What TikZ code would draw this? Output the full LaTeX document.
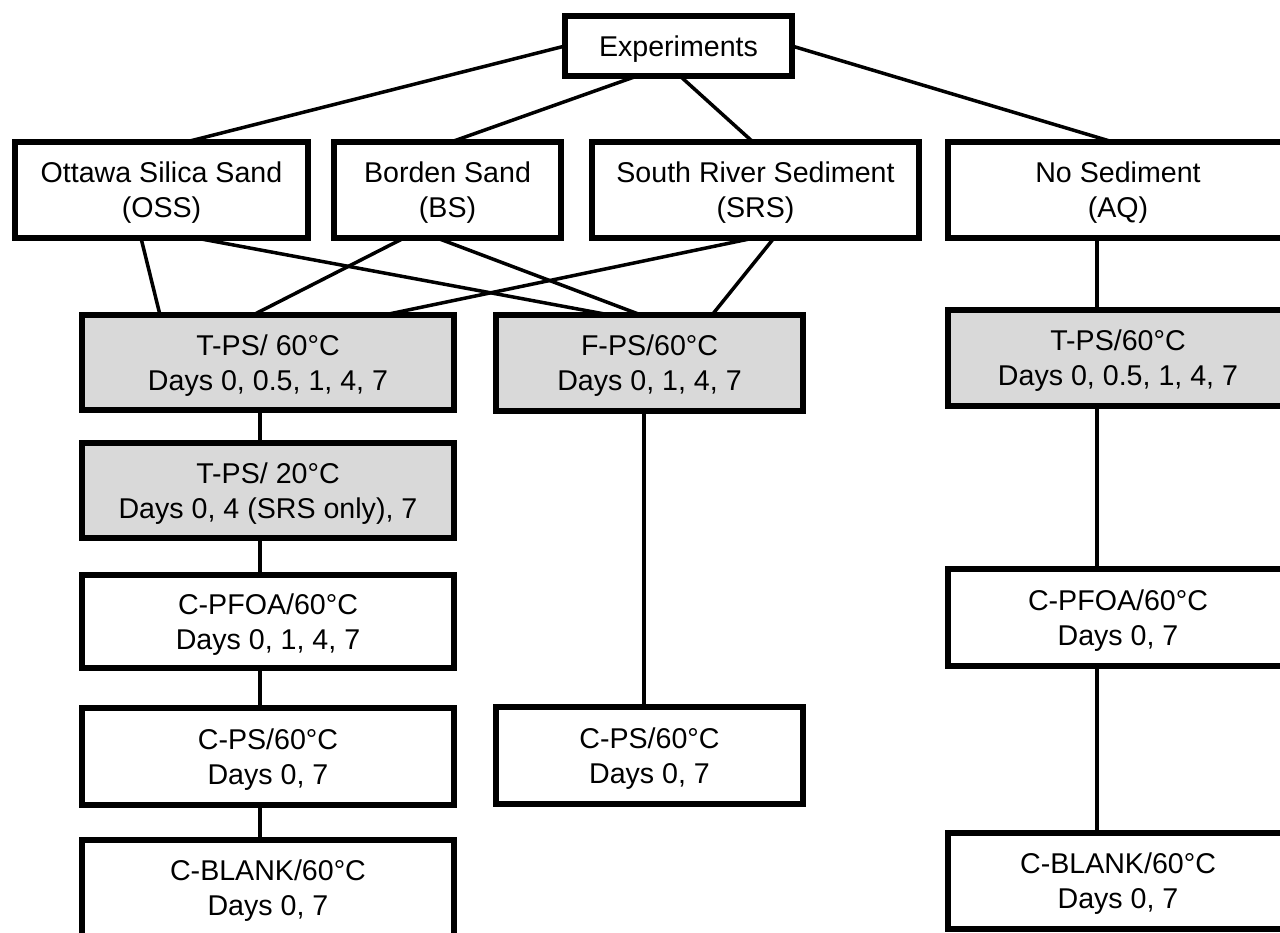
\documentclass[tikz,border=0pt]{standalone}
\usepackage{fontspec}
\setmainfont{Liberation Sans}
\definecolor{boxgray}{HTML}{D9D9D9}
\begin{document}
\begin{tikzpicture}[x=1pt,y=-1pt,
  box/.style={draw=black,line width=5.5pt,fill=white,inner sep=0pt,outer sep=0pt,
    align=center,font=\fontsize{28.6}{35}\selectfont,rectangle,text depth=0pt},
  graybox/.style={box,fill=boxgray},
  link/.style={line width=3.5pt,black}]
\clip (0,0) rectangle (1280,932);
\fill[white] (0,0) rectangle (1280,932);
% top
\node[box,minimum width=227pt,minimum height=60pt] (exp) at (678.5,46) {Experiments};
% second row
\node[box,minimum width=293pt,minimum height=96pt] (oss) at (161.5,190) {Ottawa Silica Sand\\(OSS)};
\node[box,minimum width=227pt,minimum height=96pt] (bs) at (447.5,190) {Borden Sand\\(BS)};
\node[box,minimum width=327pt,minimum height=96pt] (srs) at (755.5,190) {South River Sediment\\(SRS)};
\node[box,minimum width=340pt,minimum height=96pt] (aq) at (1118,190) {No Sediment\\(AQ)};
% left column
\node[graybox,minimum width=372pt,minimum height=95pt] (tps60) at (268,362.5) {T-PS/ 60°C\\Days 0, 0.5, 1, 4, 7};
\node[graybox,minimum width=372pt,minimum height=95pt] (tps20) at (268,490.5) {T-PS/ 20°C\\Days 0, 4 (SRS only), 7};
\node[box,minimum width=372pt,minimum height=93pt] (cpfoa) at (268,621.5) {C-PFOA/60°C\\Days 0, 1, 4, 7};
\node[box,minimum width=372pt,minimum height=97pt] (cps) at (268,756.5) {C-PS/60°C\\Days 0, 7};
\node[box,minimum width=372pt,minimum height=96pt] (cblank) at (268,888) {C-BLANK/60°C\\Days 0, 7};
% middle column
\node[graybox,minimum width=307pt,minimum height=96pt] (fps) at (649.5,363) {F-PS/60°C\\Days 0, 1, 4, 7};
\node[box,minimum width=307pt,minimum height=97pt] (cpsm) at (649.5,755.5) {C-PS/60°C\\Days 0, 7};
% right column
\node[graybox,minimum width=340pt,minimum height=96pt] (tpsr) at (1118,358) {T-PS/60°C\\Days 0, 0.5, 1, 4, 7};
\node[box,minimum width=340pt,minimum height=97pt] (cpfoar) at (1118,617.5) {C-PFOA/60°C\\Days 0, 7};
\node[box,minimum width=340pt,minimum height=96pt] (cblankr) at (1118,881) {C-BLANK/60°C\\Days 0, 7};
% connectors from Experiments
\draw[link] (exp.west) -- ([xshift=24.5pt]oss.north);
\draw[link] ([xshift=-41.5pt]exp.south) -- ([xshift=3.5pt]bs.north);
\draw[link] ([xshift=1.5pt]exp.south) -- ([xshift=-2.5pt]srs.north);
\draw[link] (exp.east) -- ([xshift=-5pt]aq.north);
% sediments to T-PS and F-PS
\draw[link] ([xshift=-20.5pt]oss.south) -- ([xshift=-108pt]tps60.north);
\draw[link] ([xshift=34.5pt]oss.south) -- ([xshift=-39.5pt]fps.north);
\draw[link] ([xshift=-43.5pt]bs.south) -- ([xshift=-15pt]tps60.north);
\draw[link] ([xshift=-10.5pt]bs.south) -- ([xshift=-8.5pt]fps.north);
\draw[link] ([xshift=-1.5pt]srs.south) -- ([xshift=116pt]tps60.north);
\draw[link] ([xshift=18.5pt]srs.south) -- ([xshift=62.5pt]fps.north);
% left chain
\draw[link] ([xshift=-8pt]tps60.south) -- ([xshift=-8pt]tps20.north);
\draw[link] ([xshift=-8pt]tps20.south) -- ([xshift=-8pt]cpfoa.north);
\draw[link] ([xshift=-8pt]cpfoa.south) -- ([xshift=-8pt]cps.north);
\draw[link] ([xshift=-8pt]cps.south) -- ([xshift=-8pt]cblank.north);
% middle chain
\draw[link] ([xshift=-5.5pt]fps.south) -- ([xshift=-5.5pt]cpsm.north);
% right chain
\draw[link] ([xshift=-21pt]aq.south) -- ([xshift=-21pt]tpsr.north);
\draw[link] ([xshift=-21pt]tpsr.south) -- ([xshift=-21pt]cpfoar.north);
\draw[link] ([xshift=-21pt]cpfoar.south) -- ([xshift=-21pt]cblankr.north);
\end{tikzpicture}
\end{document}
